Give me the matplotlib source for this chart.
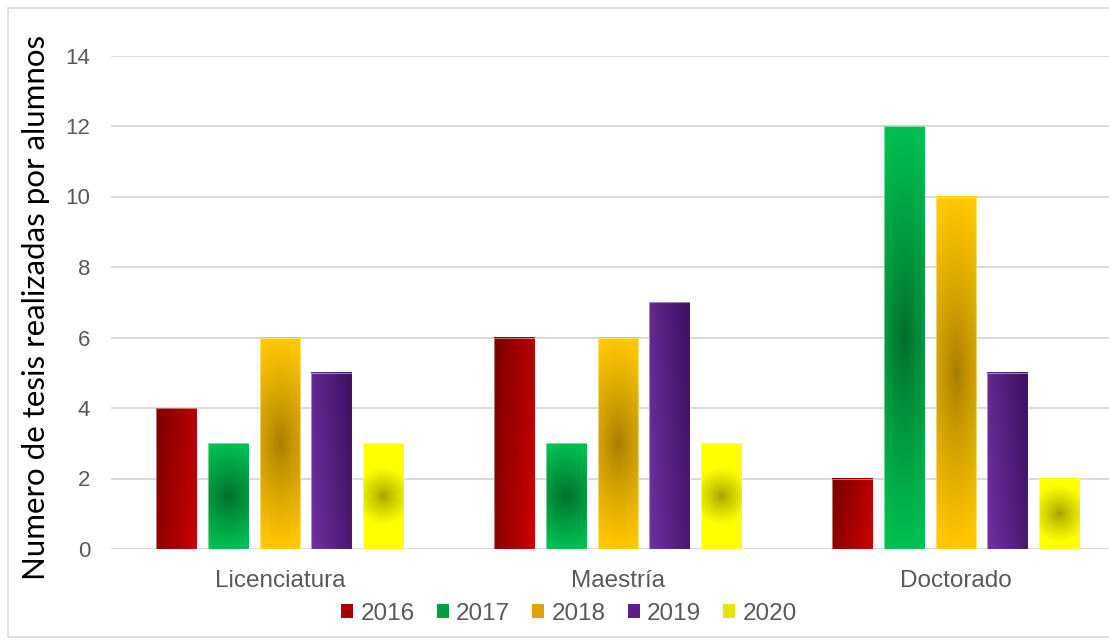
import matplotlib

matplotlib.use("Agg")
import matplotlib.pyplot as plt  # noqa: E402
import numpy as np  # noqa: E402
from matplotlib.patches import Patch, Rectangle  # noqa: E402

# data
categories = ["Licenciatura", "Maestría", "Doctorado"]
years = ["2016", "2017", "2018", "2019", "2020"]
v2016 = [4, 6, 2]
v2017 = [3, 3, 12]
v2018 = [6, 6, 10]
v2019 = [5, 7, 5]
v2020 = [3, 3, 2]
yticks = [0, 2, 4, 6, 8, 10, 12, 14]

series = [v2016, v2017, v2018, v2019, v2020]

# (kind, color at t=0, color at t=1)
fills = [
    ("lin_right", "#7a0000", "#cc0000"),
    ("radial", "#006b2b", "#00c050"),
    ("radial", "#a67a00", "#ffc800"),
    ("lin_left", "#3c1060", "#7030a0"),
    ("spot", "#a0a000", "#ffff00"),
]
legend_colors = ["#a80000", "#00a040", "#e0a400", "#5b1f8a", "#e6e600"]

W, H = 1109, 641
TEXT = "#595959"
GRID = "#d9d9d9"


def hex_rgb(c):
    c = c.lstrip("#")
    return np.array([int(c[i:i + 2], 16) for i in (0, 2, 4)]) / 255.0


def gradient(kind, c0, c1, w_px, h_px):
    nx, ny = max(int(w_px), 2), max(int(h_px), 2)
    x = np.linspace(0, 1, nx)[None, :]
    y = np.linspace(0, 1, ny)[:, None]  # 0 at top
    if kind == "lin_right":
        t = 0.75 * x + 0.25 * y
    elif kind == "lin_left":
        t = 0.75 * (1 - x) + 0.25 * y
    elif kind == "radial":
        u = (x - 0.5) * 2
        v = (y - 0.5) * 2
        t = np.sqrt((0.45 * u) ** 2 + v ** 2)
        t = np.clip(t, 0, 1) ** 0.8
    else:
        dx = (x - 0.5) * w_px
        dy = (y - 0.5) * h_px
        t = np.clip(np.sqrt(dx ** 2 + dy ** 2) / (0.7 * w_px), 0, 1) ** 0.8
    a, b = hex_rgb(c0), hex_rgb(c1)
    t = np.broadcast_to(t, (ny, nx))[..., None]
    return a * (1 - t) + b * t


fig = plt.figure(figsize=(W / 100, H / 100), dpi=100)
ax = fig.add_axes([111 / W, (H - 549) / H, 1014 / W, 493.5 / H])

step = 0.1538
bw = 0.1213
xs = np.arange(len(categories))
px_per_x = 338.0
px_per_y = 35.25

for i, vals in enumerate(series):
    kind, c0, c1 = fills[i]
    for xc, val in zip(xs, vals):
        x0 = xc + (i - 2) * step - bw / 2
        img = gradient(kind, c0, c1, bw * px_per_x, val * px_per_y)
        ax.imshow(img, extent=(x0, x0 + bw, 0, val), origin="upper",
                  aspect="auto", interpolation="bilinear", zorder=3)
        ax.add_patch(Rectangle((x0, 0), bw, val, fill=False,
                               edgecolor=(1, 1, 1, 0.45), lw=0.8, zorder=4))

ax.set_xlim(-0.5, 2.5)
ax.set_ylim(0, 14)
ax.set_yticks(yticks)
ax.set_xticks(xs)
ax.set_xticklabels(categories)
ax.grid(axis="y", color=GRID, lw=1.4, zorder=0)
ax.set_axisbelow(True)
for s in ax.spines.values():
    s.set_visible(False)
ax.tick_params(axis="both", length=0, colors=TEXT)
ax.tick_params(axis="y", pad=15, labelsize=16)
ax.tick_params(axis="x", pad=15, labelsize=17.5)
for lab in ax.get_xticklabels() + ax.get_yticklabels():
    lab.set_family("Liberation Sans")

fig.text(36 / W, 1 - 307 / H, "Numero de tesis realizadas por alumnos",
         rotation=90, ha="center", va="center", fontsize=22.5,
         family="Lato", color="black")

handles = [Patch(facecolor=c, edgecolor="none") for c in legend_colors]
leg = fig.legend(handles, years, loc="center", ncol=5,
                 bbox_to_anchor=(569 / W, 1 - 614 / H), frameon=False,
                 handlelength=0.5, handleheight=0.5, handletextpad=0.3,
                 columnspacing=0.9, borderpad=0.2,
                 prop={"family": "Liberation Sans", "size": 17.5})
for t in leg.get_texts():
    t.set_color(TEXT)

fig.add_artist(Rectangle((8 / W, 4 / H), 1.2, 1 - 12 / H, transform=fig.transFigure,
                         fill=False, edgecolor="#d9d9d9", lw=1.2))

fig.savefig("out.png", dpi=100)
